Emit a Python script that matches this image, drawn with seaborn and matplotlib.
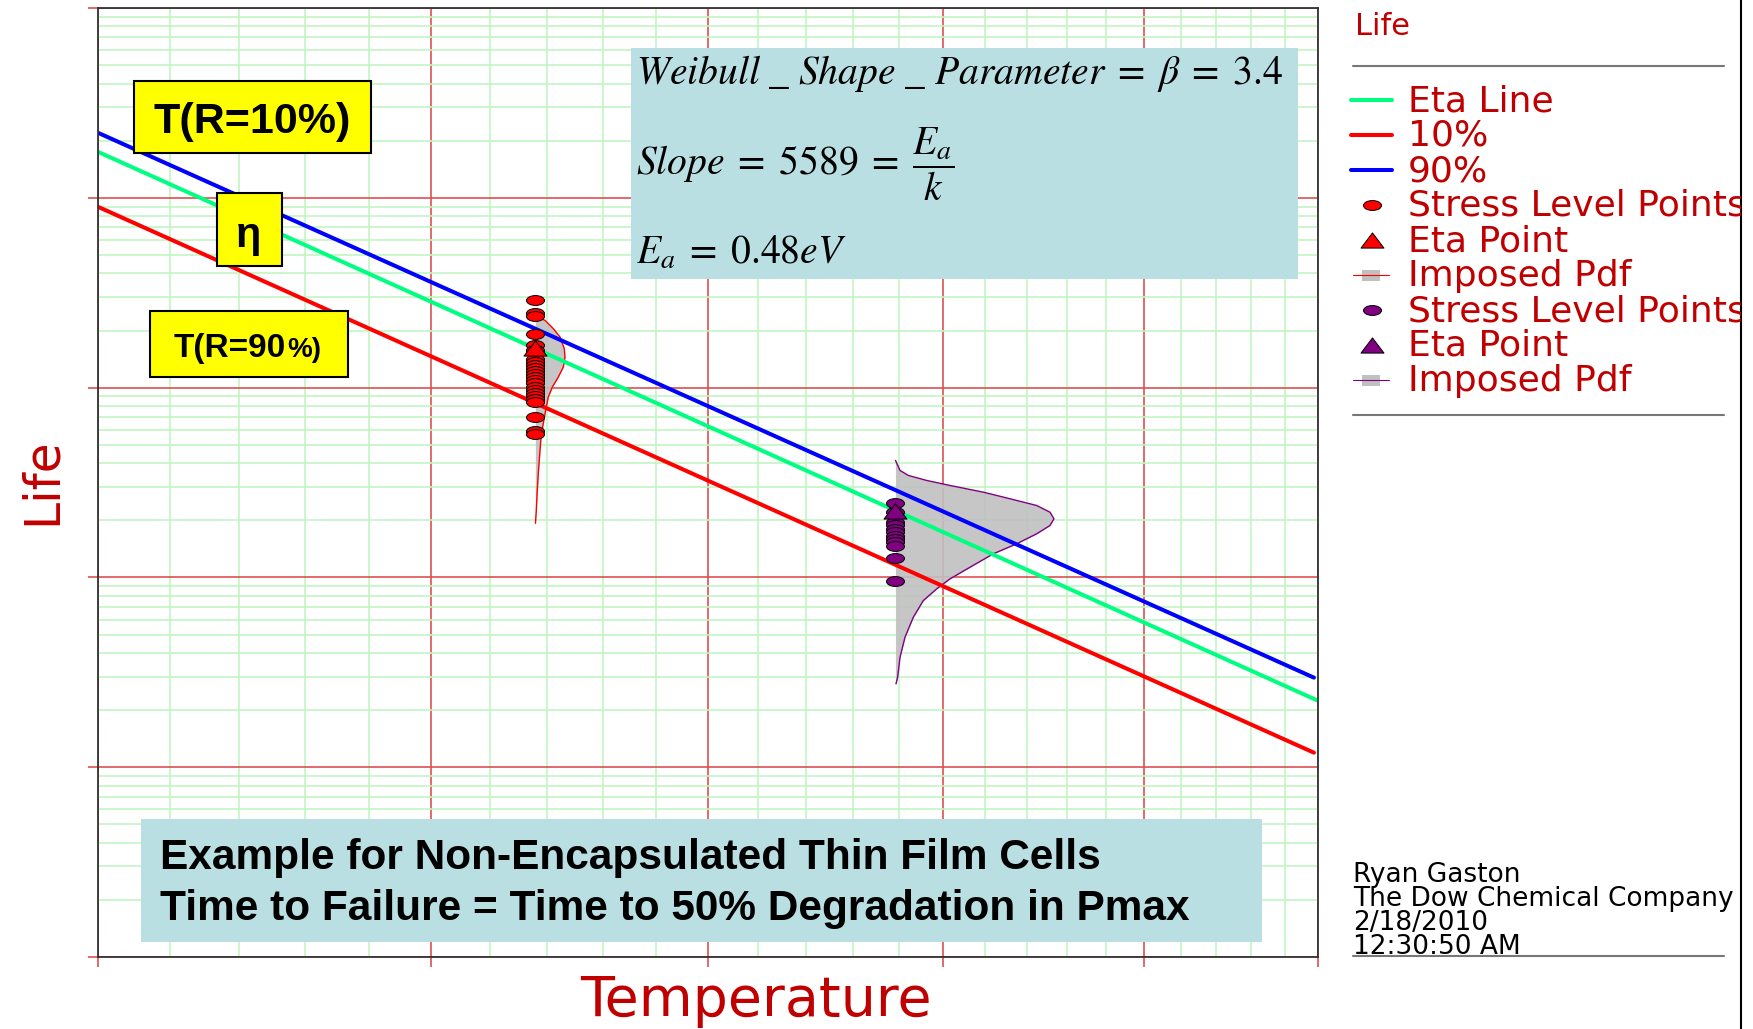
import numpy as np
import matplotlib
matplotlib.use("Agg")
import matplotlib.pyplot as plt
import matplotlib.ticker as mticker
from matplotlib.path import Path
from matplotlib.patches import Rectangle
from matplotlib.transforms import Affine2D
import seaborn as sns

# --- data (temperature in K, life in hours) ---
stress_temps = [318.0, 358.0]
line_temps = [280.0, 420.0]
eta_life = [174800, 224]
short_temps = [280.0, 419.3]
life_90 = [220300, 296.5]   # blue
life_10 = [89750, 119.3]    # red

red_points = [29120, 24750, 23780, 19270, 16720, 15730, 14220, 13700, 13190,
              12700, 12240, 11780, 11350, 10930, 10520, 10130, 9760, 9400,
              9050, 8720, 8400, 6970, 5880, 5670]
purple_points = [2463, 2207, 1955, 1878, 1804, 1731, 1663, 1598, 1533, 1473,
                 1263, 963]
eta_points = [16100, 2250]

red_pdf_temp = [318.01, 318.95, 319.78, 320.45, 320.88, 320.95, 320.78, 320.28,
                319.68, 319.28, 319.02, 318.78, 318.56, 318.46, 318.31, 318.19,
                318.09, 318.01]
red_pdf_life = [23770, 22640, 20470, 18490, 16060, 14500, 12840, 11370, 10070,
                8920, 7590, 6460, 5490, 4670, 3660, 2870, 2250, 1930]
purple_pdf_temp = [358.01, 358.57, 359.62, 361.95, 364.96, 369.34, 372.93,
                   376.58, 378.43, 378.99, 378.43, 376.58, 373.84, 370.67,
                   367.58, 364.96, 363.24, 361.52, 360.25, 359.20, 358.57,
                   358.28, 358.07]
purple_pdf_life = [4136, 3663, 3447, 3244, 3052, 2814, 2597, 2394, 2207, 2038,
                   1878, 1698, 1504, 1332, 1132, 983, 871, 755, 617, 484, 379,
                   298, 275]

legend_labels = ["Eta Line", "10%", "90%", "Stress Level Points", "Eta Point",
                 "Imposed Pdf", "Stress Level Points", "Eta Point", "Imposed Pdf"]
footer_lines = ["Ryan Gaston", "The Dow Chemical Company", "2/18/2010",
                "12:30:50 AM"]

GREEN, RED, BLUE, PURPLE = "#00FF80", "#FF0000", "#0000FF", "#800080"
LABEL_RED = "#C00000"
BOX_BLUE = "#BADFE3"

sns.set_theme(style="white")
plt.rcParams["font.family"] = ["DejaVu Sans"]
plt.rcParams["mathtext.fontset"] = "stix"
plt.rcParams["text.color"] = "black"

W, H = 1753, 1029
fig = plt.figure(figsize=(W / 100, H / 100), dpi=100)


def fx(x):
    return x / W


def fy(y):
    return 1 - y / H


ax = fig.add_axes([fx(98), fy(957), (1318 - 98) / W, (957 - 8.1) / H])


def recip(t):
    t = np.asarray(t, dtype=float)
    with np.errstate(divide="ignore"):
        return -1.0 / t


# Arrhenius paper: reciprocal temperature on x, log life on y
ax.set_xscale("function", functions=(recip, recip))
ax.set_yscale("log")

# markers: flattened ellipse and flattened triangle
ellipse = Path.unit_circle().transformed(Affine2D().scale(1, 0.55))
tri = Path([(0, 0.33), (-0.5, -0.33), (0.5, -0.33), (0, 0.33)],
           [Path.MOVETO, Path.LINETO, Path.LINETO, Path.CLOSEPOLY])

# imposed pdfs
for base, pt, pl, col in [(stress_temps[0], red_pdf_temp, red_pdf_life, RED),
                          (stress_temps[1], purple_pdf_temp, purple_pdf_life, PURPLE)]:
    ax.fill_betweenx(pl, base, pt, color="#C0C0C0", alpha=0.9, lw=0, zorder=1.5)
    ax.plot(pt, pl, color=col, lw=1.0, zorder=1.6)

sns.lineplot(x=line_temps, y=eta_life, color=GREEN, lw=2.9, ax=ax, zorder=2)
sns.lineplot(x=short_temps, y=life_10, color=RED, lw=2.9, ax=ax, zorder=2)
sns.lineplot(x=short_temps, y=life_90, color=BLUE, lw=2.9, ax=ax, zorder=2)

sns.scatterplot(x=[stress_temps[0]] * len(red_points), y=red_points, marker=ellipse,
                s=168, color=RED, edgecolor="black", linewidth=0.7, ax=ax, zorder=3)
sns.scatterplot(x=[stress_temps[1]] * len(purple_points), y=purple_points, marker=ellipse,
                s=168, color=PURPLE, edgecolor="black", linewidth=0.7, ax=ax, zorder=3)
sns.scatterplot(x=stress_temps[:1], y=eta_points[:1], marker=tri, s=274, color=RED,
                edgecolor="black", linewidth=0.7, ax=ax, zorder=3.5)
sns.scatterplot(x=stress_temps[1:], y=eta_points[1:], marker=tri, s=274, color=PURPLE,
                edgecolor="black", linewidth=0.7, ax=ax, zorder=3.5)

ax.set_xlim(280, 420)
ax.set_ylim(10, 1e6)
major_t = [280, 308, 336, 364, 392, 420]
minor_t = [t for t in np.arange(280, 420.01, 5.6) if min(abs(t - m) for m in major_t) > 0.1]
ax.xaxis.set_major_locator(mticker.FixedLocator(major_t))
ax.xaxis.set_minor_locator(mticker.FixedLocator(minor_t))
ax.yaxis.set_major_locator(mticker.LogLocator(base=10))
ax.yaxis.set_minor_locator(mticker.LogLocator(base=10, subs=np.arange(2, 10)))
ax.grid(which="minor", color="#C2F5C2", lw=1.2, zorder=0)
ax.grid(which="major", color="#DD5050", lw=1.2, zorder=0.1)
ax.set_axisbelow(True)
ax.tick_params(which="major", bottom=True, left=True, length=7, width=1.2,
               color="#DD5050", direction="out", labelbottom=False, labelleft=False)
ax.tick_params(which="minor", length=0)
for sp in ax.spines.values():
    sp.set_color("#333333")
    sp.set_linewidth(1.3)

ax.set_xlabel("Temperature", fontsize=40, color=LABEL_RED, va="baseline")
ax.xaxis.set_label_coords(0.539, (957 - 1016) / 949)
ax.set_ylabel("Life", fontsize=35, color=LABEL_RED, va="center")
ax.yaxis.set_label_coords((42 - 98) / 1220, 1 - (481 - 8) / 949)


def box(x0, y0, x1, y1, fc, ec="none", lw=0):
    fig.add_artist(Rectangle((fx(x0), fy(y1)), (x1 - x0) / W, (y1 - y0) / H,
                             transform=fig.transFigure, facecolor=fc,
                             edgecolor=ec, lw=lw, zorder=1))


bold = dict(fontweight="bold", family="Liberation Sans", color="black", zorder=3)

# yellow annotation boxes
box(134, 81, 370.5, 152.5, "#FFFF00", "black", 1.5)
fig.text(fx(252), fy(132.7), "T(R=10%)", ha="center", va="baseline", fontsize=31, **bold)
box(216.5, 193.5, 282, 265.5, "#FFFF00", "black", 1.5)
fig.text(fx(249), fy(247), "η", ha="center", va="baseline", fontsize=30, **bold)
box(149.6, 311, 348.2, 376.7, "#FFFF00", "black", 1.5)
fig.text(fx(174), fy(356.7), "T(R=90", ha="left", va="baseline", fontsize=24, **bold)
fig.text(fx(287), fy(356.7), "%)", ha="left", va="baseline", fontsize=20, **bold)

# formula box
box(631, 48.3, 1298, 279.3, BOX_BLUE)
fig.text(fx(636), fy(84),
         r"$Weibull\ \_\ Shape\ \_\ Parameter\;=\;\beta\;=\;3.4$",
         fontsize=28.5, va="baseline", color="black", zorder=3)
fig.text(fx(636), fy(175), r"$Slope\;=\;5589\;=\;\dfrac{E_a}{k}$",
         fontsize=28.5, va="baseline", color="black", zorder=3)
fig.text(fx(636), fy(263.3), r"$E_a\;=\;0.48eV$", fontsize=28.5, va="baseline",
         color="black", zorder=3)

# bottom note box
box(141, 819, 1262, 942, BOX_BLUE)
fig.text(fx(160), fy(869.3), "Example for Non-Encapsulated Thin Film Cells",
         fontsize=30.5, va="baseline", **bold)
fig.text(fx(160), fy(920), "Time to Failure = Time to 50% Degradation in Pmax",
         fontsize=30.5, va="baseline", **bold)

# legend panel (clipped at its right border like the original)
lg = fig.add_axes([fx(1330), 0, (1741 - 1330) / W, 1])
lg.set_xlim(1330, 1741)
lg.set_ylim(H, 0)
lg.axis("off")
lg.text(1355, 35, "Life", fontsize=22, color=LABEL_RED, va="baseline", clip_on=True)
for yy in (65.7, 415, 956):
    lg.plot([1353, 1724], [yy, yy], color="#777777", lw=1.5)
lg.axvline(1740.5, color="black", lw=1.5, clip_on=False)

rows = [100 + 35 * i for i in range(len(legend_labels))]
for r, col in zip(rows[:3], [GREEN, RED, BLUE]):
    lg.plot([1351, 1392], [r, r], color=col, lw=2.9)
for r, col, mk, s in [(rows[3], RED, ellipse, 168), (rows[4], RED, tri, 274),
                      (rows[6], PURPLE, ellipse, 168), (rows[7], PURPLE, tri, 274)]:
    lg.scatter([1371.5], [r], marker=mk, s=s, color=col, edgecolor="black", linewidth=0.7)
for r, col in [(rows[5], RED), (rows[8], PURPLE)]:
    lg.add_patch(Rectangle((1362, r - 5.5), 18, 11, facecolor="#C0C0C0", lw=0))
    lg.plot([1353, 1389], [r, r], color=col, lw=0.8)
for r, lab in zip(rows, legend_labels):
    lg.text(1408, r + 11, lab, fontsize=26, color=LABEL_RED, va="baseline", clip_on=True)

for i, line in enumerate(footer_lines):
    lg.text(1353, 881.7 + 24 * i, line, fontsize=19, color="black", va="baseline",
            clip_on=True)

fig.savefig("out.png", dpi=100)
